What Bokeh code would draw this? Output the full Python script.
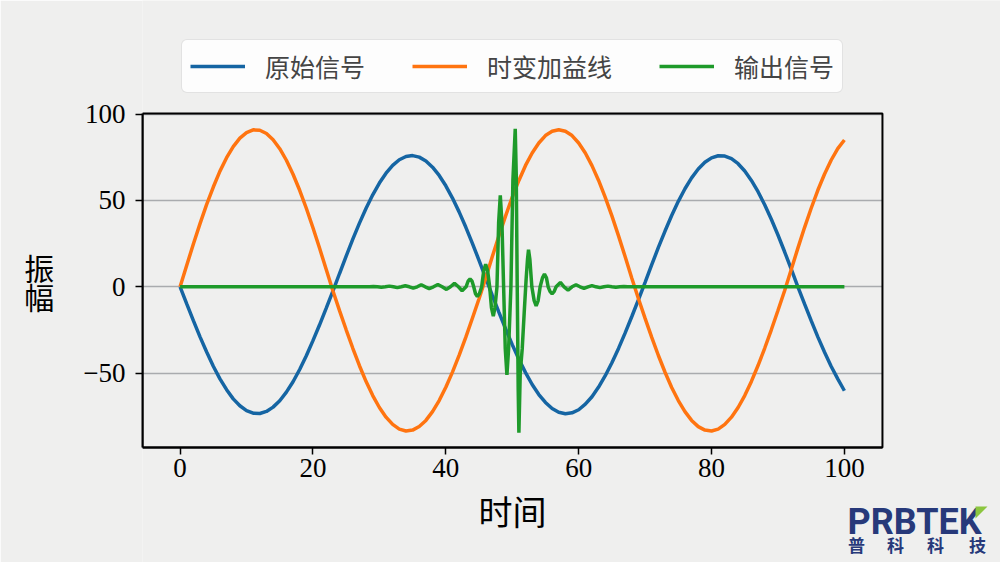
from bokeh.plotting import figure
from bokeh.models import (Legend, LegendItem, Label, FixedTicker, Range1d,
                          BoxAnnotation, PolyAnnotation)
from bokeh.embed import file_html
from bokeh.resources import INLINE

# ---------------- data ----------------
time = list(range(0, 101))

original = [
    0.0, -9.9, -19.6, -29.0, -37.8, -46.0, -53.3, -59.6, -64.9, -68.9,
    -71.7, -73.2, -73.4, -72.2, -69.7, -66.0, -61.0, -55.0, -47.9, -39.9,
    -31.2, -22.0, -12.4, -2.5, 7.7, 17.8, 27.6, 36.9, 45.5, 53.3,
    60.1, 65.8, 70.3, 73.6, 75.5, 76.0, 75.1, 72.9, 69.3, 64.5,
    58.5, 51.4, 43.4, 34.6, 25.2, 15.3, 5.1, -5.0, -14.8, -24.4,
    -33.5, -42.0, -49.7, -56.6, -62.4, -67.0, -70.5, -72.7, -73.5, -73.0,
    -71.2, -68.0, -63.7, -58.1, -51.5, -44.0, -35.7, -26.7, -17.2, -7.4,
    2.6, 12.8, 22.8, 32.3, 41.3, 49.5, 56.8, 63.1, 68.2, 72.1,
    74.7, 75.9, 75.7, 74.2, 71.3, 67.1, 61.6, 55.1, 47.5, 39.1,
    30.0, 20.3, 10.2, 0.0, -9.9, -19.6, -29.0, -37.8, -46.0, -53.3,
    -60.2,
]

gain = [
    0.0, 12.5, 24.8, 36.6, 47.7, 57.8, 67.0, 74.8, 81.2, 86.1,
    89.3, 90.9, 90.7, 88.8, 85.2, 80.0, 73.3, 65.2, 55.9, 45.5,
    34.2, 22.3, 10.0, -2.3, -13.8, -24.9, -35.6, -45.7, -54.9, -63.0,
    -69.9, -75.5, -79.7, -82.4, -83.5, -83.0, -80.9, -77.4, -72.3, -65.9,
    -58.2, -49.4, -39.7, -29.3, -18.2, -6.9, 5.0, 17.5, 29.6, 41.1,
    51.9, 61.6, 70.3, 77.5, 83.3, 87.6, 90.1, 91.0, 90.1, 87.6,
    83.3, 77.5, 70.2, 61.6, 51.8, 41.1, 29.5, 17.4, 5.0, -6.9,
    -18.3, -29.3, -39.8, -49.5, -58.3, -65.9, -72.3, -77.4, -81.0, -83.0,
    -83.5, -82.4, -79.7, -75.5, -69.9, -63.0, -54.8, -45.6, -35.6, -24.9,
    -13.7, -2.3, 10.0, 22.4, 34.3, 45.5, 55.9, 65.2, 73.3, 80.0,
    85.0,
]

out_t = [
    0, 28.5, 29.1, 29.7, 30.3, 30.9, 31.5, 32.1, 32.7, 33.3,
    33.9, 34.5, 35.1, 35.7, 36.3, 36.9, 37.5, 38.15, 38.8, 39.45,
    40.1, 40.7, 41.3, 41.9, 42.45, 43.05, 43.35, 43.65, 43.95, 44.2,
    44.47, 44.75, 45.05, 45.4, 45.7, 46.0, 46.3, 46.6, 46.87, 47.15,
    47.4, 47.7, 47.95, 48.2, 48.45, 48.7, 48.95, 49.2, 49.45, 49.8,
    50.1, 50.45, 50.6, 50.75, 50.9, 51.0, 51.2, 51.5, 51.8, 52.1,
    52.3, 52.45, 52.65, 52.95, 53.3, 53.6, 53.9, 54.2, 54.55, 54.85,
    55.15, 55.4, 55.7, 56.0, 56.3, 56.6, 57.25, 57.8, 58.4, 59.0,
    59.6, 60.2, 60.8, 61.4, 62.0, 62.6, 63.2, 63.8, 64.4, 65.0,
    65.6, 66.2, 66.8, 67.4, 100,
]
out_y = [
    0, 0, 0.2, 0, -0.3, 0, 0.4, 0, -0.5, 0,
    0.6, 0, -0.8, 0, 1.2, 0, -1.0, 0, 1.3, 0,
    -1.5, 0, 2.0, 0, -2.3, 0, 3.2, 4.5, 3.2, 0,
    -4.0, -5.6, -4.0, 0, 9.2, 13.0, 9.2, 0, -12.0, -17.0,
    -12.0, 0, 37.0, 53.0, 37.0, 0, -36.0, -51.0, -36.0, 0,
    62.0, 91.5, 65.0, 0, -60.0, -84.5, -50.0, -36.0, -15.0, 5.0,
    16.0, 21.5, 16.0, 0, -8.0, -11.0, -8.0, 0, 5.2, 7.4,
    5.2, 0, -2.8, -4.0, -2.8, 0, 2.5, 0, -1.9, 0,
    1.2, 0, -0.9, 0, 0.7, 0, -0.5, 0, 0.4, 0,
    -0.3, 0, 0.2, 0, 0,
]

series_names = ["原始信号", "时变加益线", "输出信号"]
x_ticks = [0, 20, 40, 60, 80, 100]
y_ticks = [-50, 0, 50, 100]
y_tick_labels = {-50: "\u221250", 0: "0", 50: "50", 100: "100"}

# ---------------- layout / styling ----------------
BG = "#efefee"
C_BLUE = "#1565a3"
C_ORANGE = "#ff7410"
C_GREEN = "#1e9a2a"
NAVY = "#27397a"
CJK = "Noto Sans CJK SC"
SERIF = "Liberation Serif"

W, H = 1000, 562
FL = 142                       # left edge of the axes box (page px)
# visible axes box, in data units
BOX_X = (-5.66, 105.73)
BOX_Y = (-93.08, 100.38)
# drawing frame covers the whole page right of the y-axis panel
X_RANGE = (-5.66, 123.5)
Y_RANGE = (-159.69, 165.83)

p = figure(width=W, height=H, output_backend="svg", toolbar_location=None,
           title=None,
           x_range=Range1d(*X_RANGE), y_range=Range1d(*Y_RANGE),
           min_border_left=FL, min_border_right=0,
           min_border_top=0, min_border_bottom=0)
p.background_fill_color = BG
p.border_fill_color = BG
p.outline_line_color = None

r1 = p.line(time, original, line_color=C_BLUE, line_width=3.5)
r2 = p.line(time, gain, line_color=C_ORANGE, line_width=3.5)
r3 = p.line(out_t, out_y, line_color=C_GREEN, line_width=3.5)

p.xgrid.visible = False
p.ygrid.grid_line_color = "#a9abae"
p.ygrid.grid_line_width = 1.5
p.ygrid.ticker = FixedTicker(ticks=y_ticks)

xax = p.xaxis[0]
yax = p.yaxis[0]
xax.ticker = FixedTicker(ticks=x_ticks)
yax.ticker = FixedTicker(ticks=y_ticks)
yax.major_label_overrides = y_tick_labels
xax.fixed_location = BOX_Y[0]
xax.bounds = BOX_X
yax.bounds = BOX_Y
for ax in (xax, yax):
    ax.axis_line_color = "black"
    ax.axis_line_width = 2
    ax.major_tick_line_color = "black"
    ax.major_tick_line_width = 1.5
    ax.major_tick_in = 0
    ax.major_tick_out = 7
    ax.minor_tick_line_color = None
    ax.major_label_text_font = SERIF
    ax.major_label_text_font_size = "27px"
    ax.major_label_text_color = "black"
yax.major_label_standoff = 10
xax.major_label_standoff = 5

xax.axis_label = "时间"
xax.axis_label_text_font = CJK
xax.axis_label_text_font_size = "34px"
xax.axis_label_text_font_style = "normal"
xax.axis_label_text_color = "black"
xax.axis_label_standoff = 5

# vertical, upright y label (stacked characters)
yax.axis_label = "振\n幅"
yax.axis_label_text_font = CJK
yax.axis_label_text_font_size = "30px"
yax.axis_label_text_font_style = "normal"
yax.axis_label_text_color = "black"
yax.axis_label_text_line_height = 0.68
yax.axis_label_standoff = 26
if "axis_label_orientation" in yax.properties():
    yax.axis_label_orientation = "horizontal"

# hide grid beyond the right spine, then draw the box spines
p.add_layout(BoxAnnotation(left=BOX_X[1], fill_color=BG, fill_alpha=1,
                           line_color=None))
p.add_layout(BoxAnnotation(left=BOX_X[0], right=BOX_X[1],
                           bottom=BOX_Y[0], top=BOX_Y[1],
                           fill_alpha=0, line_color="black", line_width=2,
                           line_alpha=1))

legend = Legend(items=[LegendItem(label=series_names[0], renderers=[r1]),
                       LegendItem(label=series_names[1], renderers=[r2]),
                       LegendItem(label=series_names[2], renderers=[r3])],
                orientation="horizontal", location=(181 - FL, H - 93),
                label_text_font=CJK, label_text_font_size="25px",
                glyph_width=55, glyph_height=20, label_standoff=20,
                spacing=47, padding=8, margin=0, label_height=34,
                border_line_color="#c8c8c8", border_line_width=1.5,
                border_radius=6,
                background_fill_color="white", background_fill_alpha=0.85)
p.add_layout(legend, "center")

# logo (screen positions relative to the frame's bottom-left corner)
p.add_layout(Label(x=847 - FL, y=H - 521, x_units="screen", y_units="screen",
                   text="PRBTEK", text_font="Roboto", text_font_style="bold",
                   text_font_size="36px", text_color=NAVY,
                   text_align="left", text_baseline="alphabetic"))
for ch, xx in (("普", 856), ("科", 895), ("科", 935), ("技", 977)):
    p.add_layout(Label(x=xx - FL, y=H - 544, x_units="screen", y_units="screen",
                       text=ch, text_font=CJK, text_font_size="17px",
                       text_font_style="bold", text_color=NAVY,
                       text_align="center", text_baseline="middle"))

def px_to_x(px):
    return X_RANGE[0] + (px - FL) * (X_RANGE[1] - X_RANGE[0]) / (W - FL)

def py_to_y(py):
    return Y_RANGE[1] - py * (Y_RANGE[1] - Y_RANGE[0]) / H

p.add_layout(PolyAnnotation(xs=[px_to_x(975), px_to_x(987), px_to_x(975)],
                            ys=[py_to_y(506), py_to_y(506), py_to_y(518)],
                            fill_color="#8cc63f", fill_alpha=1, line_color=None))

open("out.html", "w").write(file_html(p, INLINE))
